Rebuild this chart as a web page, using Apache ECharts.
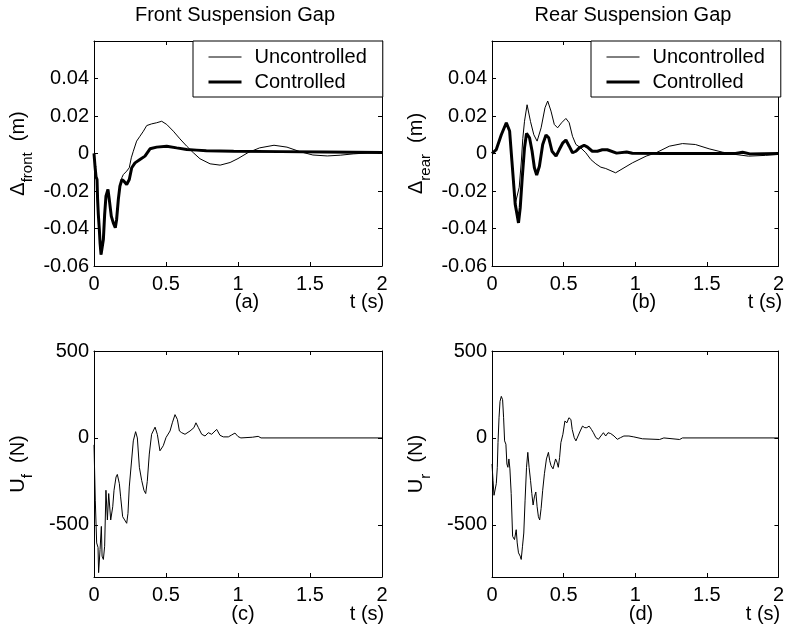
<!DOCTYPE html>
<html>
<head>
<meta charset="utf-8">
<script src="https://cdn.jsdelivr.net/npm/echarts@6/dist/echarts.min.js"></script>
<style>
  html, body { margin: 0; padding: 0; background: #fff; }
  #c1 { width: 787px; height: 639px; }
</style>
</head>
<body>
<div id="c1"></div>
<script>
// (a) front suspension gap, controlled
var tFrontCtrl = [0, 0.007, 0.014, 0.021, 0.025, 0.03, 0.037, 0.042, 0.049, 0.056, 0.065, 0.074, 0.083, 0.097, 0.106, 0.12, 0.134, 0.148, 0.157, 0.169, 0.18, 0.194, 0.208, 0.227, 0.245, 0.262, 0.285, 0.319, 0.354, 0.389, 0.435, 0.505, 0.574, 0.644, 0.713, 0.78, 0.97, 1.3, 1.6, 2.0];
var gapFrontCtrl = [0, -0.0068, -0.0124, -0.0139, -0.0245, -0.0325, -0.0405, -0.0476, -0.0539, -0.053, -0.0459, -0.0325, -0.0228, -0.0192, -0.0245, -0.0334, -0.037, -0.0396, -0.0352, -0.0245, -0.0174, -0.0139, -0.0148, -0.0165, -0.0139, -0.0076, -0.005, -0.0032, -0.0014, 0.0025, 0.0034, 0.0039, 0.003, 0.0021, 0.0018, 0.0015, 0.0012, 0.001, 0.0008, 0.0005];
// (a) front suspension gap, uncontrolled
var tFrontUnc = [0, 0.007, 0.014, 0.021, 0.025, 0.03, 0.037, 0.042, 0.049, 0.056, 0.065, 0.074, 0.083, 0.097, 0.106, 0.12, 0.134, 0.148, 0.157, 0.169, 0.18, 0.194, 0.204, 0.227, 0.245, 0.259, 0.273, 0.296, 0.319, 0.343, 0.366, 0.4, 0.435, 0.47, 0.505, 0.551, 0.597, 0.644, 0.69, 0.736, 0.806, 0.876, 0.945, 1.0, 1.07, 1.15, 1.25, 1.34, 1.43, 1.52, 1.62, 1.71, 1.8, 1.9, 2.0];
var gapFrontUnc = [0, -0.0068, -0.0124, -0.0139, -0.0245, -0.0325, -0.0405, -0.0476, -0.0539, -0.053, -0.0459, -0.0325, -0.0228, -0.0192, -0.0245, -0.0334, -0.037, -0.0396, -0.0352, -0.0245, -0.0174, -0.0128, -0.0112, -0.0094, -0.0076, -0.0023, 0.0012, 0.0066, 0.0092, 0.0119, 0.0149, 0.0158, 0.0164, 0.0172, 0.0155, 0.0119, 0.0078, 0.0039, 0.0004, -0.0028, -0.0055, -0.0062, -0.0048, -0.0027, 0.0005, 0.003, 0.0044, 0.0034, 0.001, -0.0008, -0.0013, -0.0009, -0.0002, 0.0003, 0.0005];
// (b) rear suspension gap, controlled
var tRearCtrl = [0, 0.03, 0.065, 0.1, 0.111, 0.123, 0.139, 0.153, 0.162, 0.176, 0.185, 0.197, 0.211, 0.227, 0.241, 0.262, 0.28, 0.296, 0.312, 0.331, 0.354, 0.377, 0.396, 0.419, 0.447, 0.47, 0.493, 0.516, 0.539, 0.562, 0.586, 0.609, 0.643, 0.667, 0.7, 0.736, 0.77, 0.805, 0.87, 0.94, 0.98, 1.2, 1.7, 1.75, 1.8, 2.0];
var gapRearCtrl = [0, 0.0021, 0.010, 0.0164, 0.017, 0.012, -0.004, -0.018, -0.027, -0.033, -0.037, -0.029, -0.013, 0.003, 0.0107, 0.0084, 0.0012, -0.0076, -0.0115, -0.0068, 0.0048, 0.0099, 0.0084, 0.0012, -0.0014, 0.0021, 0.0055, 0.0072, 0.0039, 0.0004, 0.0012, 0.003, 0.0044, 0.0034, 0.0012, 0.0012, 0.002, 0.002, 0.0002, 0.0008, 0.0001, 0, 0, 0.0007, -0.0002, 0];
// (b) rear suspension gap, uncontrolled
var tRearUnc = [0, 0.03, 0.065, 0.1, 0.111, 0.123, 0.139, 0.153, 0.165, 0.176, 0.19, 0.205, 0.215, 0.227, 0.245, 0.269, 0.292, 0.315, 0.343, 0.37, 0.389, 0.412, 0.435, 0.458, 0.486, 0.516, 0.539, 0.562, 0.586, 0.62, 0.655, 0.69, 0.725, 0.76, 0.794, 0.863, 0.98, 1.076, 1.146, 1.238, 1.33, 1.42, 1.516, 1.61, 1.7, 1.79, 1.91, 2.0];
var gapRearUnc = [0, 0.0021, 0.010, 0.0164, 0.017, 0.012, -0.004, -0.018, -0.026, -0.025, -0.018, -0.004, 0.008, 0.0172, 0.026, 0.017, 0.010, 0.0066, 0.0137, 0.0244, 0.028, 0.0226, 0.0155, 0.0137, 0.0164, 0.0187, 0.0164, 0.0092, 0.0048, 0.003, 0.0004, -0.0032, -0.0055, -0.0073, -0.008, -0.0103, -0.005, -0.0014, 0.0004, 0.0039, 0.0053, 0.0048, 0.0025, 0.0007, -0.0005, -0.0014, -0.001, -0.0005];
// (c) front control force
var tForceFront = [0, 0.009, 0.0185, 0.028, 0.032, 0.042, 0.051, 0.056, 0.065, 0.074, 0.083, 0.093, 0.102, 0.116, 0.13, 0.139, 0.153, 0.162, 0.176, 0.185, 0.199, 0.213, 0.227, 0.236, 0.245, 0.259, 0.273, 0.289, 0.301, 0.315, 0.331, 0.347, 0.359, 0.37, 0.384, 0.4, 0.424, 0.44, 0.458, 0.47, 0.481, 0.5, 0.528, 0.544, 0.5625, 0.579, 0.593, 0.609, 0.632, 0.667, 0.694, 0.708, 0.725, 0.748, 0.771, 0.794, 0.817, 0.852, 0.875, 0.898, 0.933, 0.956, 0.979, 1.0, 1.02, 1.1, 1.14, 1.16, 2.0];
var forceFront = [-40, -358, -604, -630, -775, -642, -509, -680, -699, -623, -301, -472, -320, -472, -396, -301, -225, -210, -263, -339, -453, -472, -491, -434, -282, -150, -17, 36, 0, -169, -244, -301, -320, -250, -93, 21, 62, 20, -74, -83, -45, 2, 40, 87, 134, 106, 40, 30, 21, 40, 59, 87, 59, 21, 11, 30, 21, 49, 15, 6, 6, 17, 28, 8, 0, 4, 9, 0, 0];
// (d) rear control force
var tForceRear = [0, 0.007, 0.014, 0.025, 0.03, 0.037, 0.042, 0.049, 0.056, 0.065, 0.074, 0.081, 0.088, 0.097, 0.104, 0.111, 0.118, 0.125, 0.134, 0.144, 0.157, 0.169, 0.176, 0.185, 0.197, 0.204, 0.213, 0.222, 0.231, 0.241, 0.25, 0.259, 0.269, 0.278, 0.287, 0.296, 0.306, 0.315, 0.324, 0.333, 0.343, 0.354, 0.366, 0.38, 0.394, 0.403, 0.412, 0.426, 0.435, 0.444, 0.454, 0.463, 0.472, 0.481, 0.495, 0.509, 0.523, 0.537, 0.551, 0.56, 0.574, 0.586, 0.597, 0.616, 0.632, 0.648, 0.662, 0.678, 0.694, 0.708, 0.725, 0.743, 0.76, 0.778, 0.794, 0.81, 0.829, 0.852, 0.875, 0.898, 0.921, 0.956, 0.99, 1.0, 1.05, 1.17, 1.2, 1.31, 1.33, 2.0];
var forceRear = [-150, -244, -330, -320, -263, -169, -27, 116, 210, 239, 220, 116, -17, -36, -150, -169, -121, -178, -320, -566, -585, -528, -604, -661, -680, -699, -623, -547, -358, -169, -83, -169, -244, -320, -386, -339, -311, -396, -453, -472, -405, -301, -206, -121, -83, -131, -159, -178, -150, -121, -140, -169, -112, -27, 21, 97, 87, 116, 106, 49, 2, -17, -8, 40, 68, 59, 59, 68, 49, 30, 2, -8, 11, 30, 11, 30, 25, 11, -8, 2, 11, 11, 6, -2, -5, -9, 0, -9, 0, 0];

var timeTicks = [0, 0.5, 1, 1.5, 2];
var forceTicks = [-500, 0, 500];

var fontName = "Liberation Sans";

function pairs(t, v) {
  return t.map(function (x, i) { return [x, v[i]]; });
}

var grids = [
  { left: 94, top: 41, width: 288, height: 225 },
  { left: 492, top: 41, width: 288, height: 225 },
  { left: 94, top: 351, width: 288, height: 226 },
  { left: 492, top: 351, width: 288, height: 226 },
];

var xAxes = [];
var yAxes = [];
grids.forEach(function (g, i) {
  ["bottom", "top"].forEach(function (pos) {
    xAxes.push({
      gridIndex: i,
      type: "value",
      position: pos,
      min: 0,
      max: 2,
      interval: 0.5,
      axisLine: { show: true, onZero: false, lineStyle: { color: "#000", width: 1 } },
      axisTick: { show: true, inside: true, length: 4, lineStyle: { color: "#000" } },
      axisLabel: {
        show: pos == "bottom",
        margin: 8,
        color: "#000",
        fontSize: 20,
        fontFamily: fontName,
      },
      splitLine: { show: false },
    });
  });
});

var richName = {
  d: { fontSize: 20, fontFamily: fontName, color: "#000", verticalAlign: "top", lineHeight: 24 },
  s: { fontSize: 15, fontFamily: fontName, color: "#000", verticalAlign: "top", lineHeight: 15, padding: [12, 0, 0, 0] },
};
var yNames = ["{d|Δ}{s|front}{d|  (m)}", "{d|Δ}{s|rear}{d|  (m)}", "{d|U}{s|f}{d|  (N)}", "{d|U}{s|r}{d|  (N)}"];

grids.forEach(function (g, i) {
  var gap = i < 2;
  ["left", "right"].forEach(function (pos) {
    var ax = {
      gridIndex: i,
      type: "value",
      position: pos,
      axisLine: { show: true, onZero: false, lineStyle: { color: "#000", width: 1 } },
      axisTick: { show: true, inside: true, length: 4, lineStyle: { color: "#000" } },
      axisLabel: {
        show: pos == "left",
        margin: 5,
        color: "#000",
        fontSize: 20,
        fontFamily: fontName,
      },
      splitLine: { show: false },
    };
    if (gap) {
      ax.min = -0.06;
      ax.max = 0.06;
      ax.interval = 0.02;
      ax.axisLabel.formatter = function (v) {
        if (v > 0.05) return "";
        return String(Math.round(v * 100) / 100);
      };
    } else {
      ax.min = -800;
      ax.max = 500;
      ax.axisLabel.customValues = forceTicks;
      ax.axisTick.customValues = forceTicks;
    }
    if (pos == "left") {
      ax.name = yNames[i];
      ax.nameLocation = "middle";
      ax.nameRotate = 90;
      ax.nameGap = 62;
      ax.nameTextStyle = { rich: richName };
    }
    yAxes.push(ax);
  });
});

function lineSeries(name, idx, data, width) {
  return {
    name: name,
    type: "line",
    xAxisIndex: idx * 2,
    yAxisIndex: idx * 2,
    data: data,
    symbol: "none",
    showSymbol: false,
    animation: false,
    lineStyle: { color: "#000", width: width },
    itemStyle: { color: "#000" },
  };
}

function makeLegend(left) {
  return {
    left: left,
    top: 41,
    orient: "vertical",
    data: [
      { name: "Uncontrolled", lineStyle: { width: 1, color: "#000" } },
      { name: "Controlled", lineStyle: { width: 3, color: "#000" } },
    ],
    itemWidth: 33,
    itemHeight: 20,
    itemGap: 5,
    padding: [6, 16, 5, 14],
    borderColor: "#000",
    borderWidth: 1,
    borderRadius: 0,
    backgroundColor: "#fff",
    selectedMode: false,
    itemStyle: { opacity: 0 },
    textStyle: { color: "#000", fontSize: 20, fontFamily: fontName, padding: [0, 0, 0, 8] },
  };
}

function txt(x, y, s) {
  return {
    type: "text",
    x: x,
    y: y,
    style: { text: s, fill: "#000", fontSize: 20, fontFamily: fontName, align: "center", verticalAlign: "middle" },
  };
}

var chartDom = document.getElementById("c1");
var myChart = echarts.init(chartDom, null, { renderer: "canvas" });
var option = {
  backgroundColor: "#fff",
  animation: false,
  grid: grids,
  xAxis: xAxes,
  yAxis: yAxes,
  legend: [makeLegend(193), makeLegend(591)],
  graphic: [
    txt(235, 15, "Front Suspension Gap"),
    txt(633, 15, "Rear Suspension Gap"),
    txt(247, 302, "(a)"),
    txt(367, 302, "t (s)"),
    txt(644, 302, "(b)"),
    txt(765, 302, "t (s)"),
    txt(243, 614, "(c)"),
    txt(367, 614, "t (s)"),
    txt(641, 614, "(d)"),
    txt(763, 614, "t (s)"),
  ],
  series: [
    lineSeries("Uncontrolled", 0, pairs(tFrontUnc, gapFrontUnc), 1),
    lineSeries("Controlled", 0, pairs(tFrontCtrl, gapFrontCtrl), 3),
    lineSeries("Uncontrolled", 1, pairs(tRearUnc, gapRearUnc), 1),
    lineSeries("Controlled", 1, pairs(tRearCtrl, gapRearCtrl), 3),
    lineSeries("Uf", 2, pairs(tForceFront, forceFront), 1),
    lineSeries("Ur", 3, pairs(tForceRear, forceRear), 1),
  ],
};
myChart.setOption(option);
window.addEventListener("resize", function () {
  myChart.resize();
});
</script>
</body>
</html>
